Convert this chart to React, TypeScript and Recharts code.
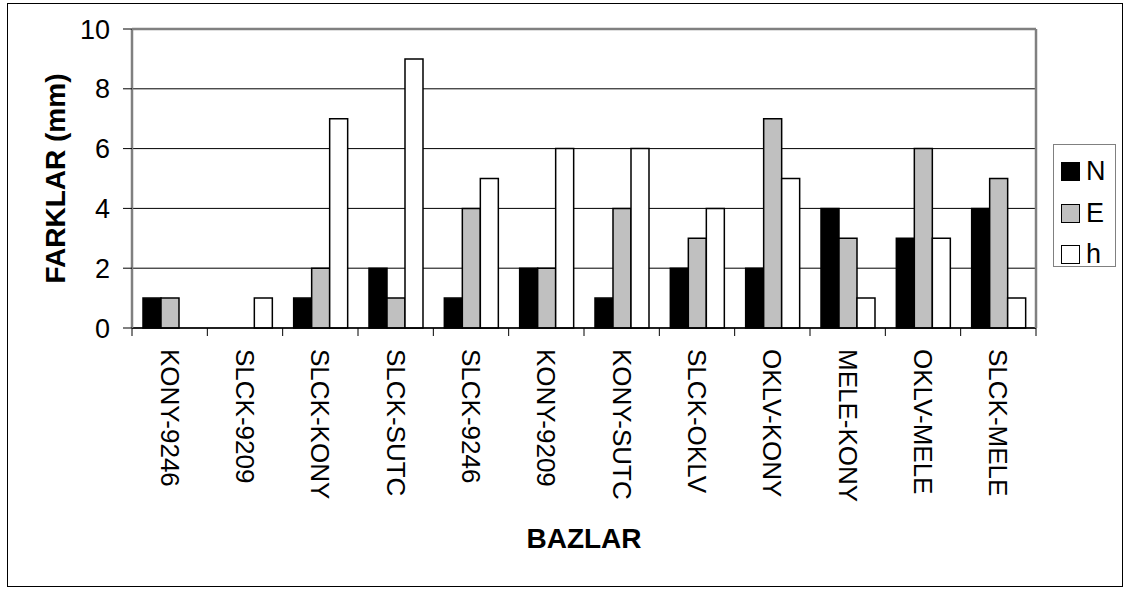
import React from "react";
import {
  BarChart,
  Bar,
  XAxis,
  YAxis,
  CartesianGrid,
  Legend,
  ReferenceLine,
} from "recharts";

const CATEGORIES = [
  "KONY-9246",
  "SLCK-9209",
  "SLCK-KONY",
  "SLCK-SUTC",
  "SLCK-9246",
  "KONY-9209",
  "KONY-SUTC",
  "SLCK-OKLV",
  "OKLV-KONY",
  "MELE-KONY",
  "OKLV-MELE",
  "SLCK-MELE",
];
const N_VALUES = [1, 0, 1, 2, 1, 2, 1, 2, 2, 4, 3, 4];
const E_VALUES = [1, 0, 2, 1, 4, 2, 4, 3, 7, 3, 6, 5];
const H_VALUES = [0, 1, 7, 9, 5, 6, 6, 4, 5, 1, 3, 1];
const Y_TICKS = [0, 2, 4, 6, 8, 10];

const SERIES = [
  { key: "N", fill: "#000000" },
  { key: "E", fill: "#c0c0c0" },
  { key: "h", fill: "#ffffff" },
];

const data = CATEGORIES.map((name, i) => ({
  name,
  N: N_VALUES[i],
  E: E_VALUES[i],
  h: H_VALUES[i],
}));

const FONT = "Arial, 'Liberation Sans', sans-serif";
const W = 1124;
const H = 590;
const PLOT_LEFT = 132;
const PLOT_RIGHT = 1036;
const PLOT_TOP = 29;
const PLOT_BOTTOM = 328;
const BAND = (PLOT_RIGHT - PLOT_LEFT) / CATEGORIES.length;

// rotated category labels + tick marks between categories (Excel style)
const CategoryTick = (props: any) => {
  const { x, payload, index } = props;
  const last = index === CATEGORIES.length - 1;
  return (
    <g>
      <line x1={x - BAND / 2} x2={x - BAND / 2} y1={PLOT_BOTTOM} y2={PLOT_BOTTOM + 8} stroke="#000" strokeWidth={1} />
      {last && (
        <line x1={x + BAND / 2} x2={x + BAND / 2} y1={PLOT_BOTTOM} y2={PLOT_BOTTOM + 8} stroke="#000" strokeWidth={1} />
      )}
      <text
        transform={`translate(${x}, ${PLOT_BOTTOM + 21}) rotate(90)`}
        textAnchor="start"
        dominantBaseline="central"
        fontSize={26}
        fontFamily={FONT}
        fill="#000"
      >
        {payload.value}
      </text>
    </g>
  );
};

const LegendBox = () => (
  <div
    style={{
      width: 63,
      height: 123,
      border: "1px solid #808080",
      boxSizing: "border-box",
      background: "#fff",
      fontFamily: FONT,
      fontSize: 27,
      paddingTop: 6,
    }}
  >
    {SERIES.map((s) => (
      <div key={s.key} style={{ display: "flex", alignItems: "center", height: 41.5, paddingLeft: 7 }}>
        <span
          style={{
            display: "inline-block",
            width: 17,
            height: 17,
            background: s.fill,
            border: "1.5px solid #000",
            marginRight: 6,
          }}
        />
        <span style={{ lineHeight: 1 }}>{s.key}</span>
      </div>
    ))}
  </div>
);

export default function App() {
  return (
    <div style={{ position: "absolute", left: 0, top: 0, width: W, height: H, background: "#fff" }}>
      <div
        style={{
          position: "absolute",
          left: 7,
          top: 3,
          width: 1116,
          height: 584,
          border: "1.5px solid #000",
          boxSizing: "border-box",
        }}
      />
      <BarChart
        width={W}
        height={H}
        data={data}
        margin={{ top: PLOT_TOP, right: W - PLOT_RIGHT - 1, left: 0, bottom: 0 }}
        barCategoryGap="14.6%"
        barGap={0}
        style={{ position: "absolute", left: 0, top: 0 }}
      >
        <CartesianGrid yAxisId="left" horizontal vertical={false} stroke="#000" strokeWidth={1} />
        <XAxis
          dataKey="name"
          height={H - PLOT_BOTTOM}
          interval={0}
          tick={<CategoryTick />}
          tickLine={false}
          axisLine={{ stroke: "#000", strokeWidth: 1.5 }}
          label={{
            value: "BAZLAR",
            position: "center",
            dy: 79,
            style: { fontSize: 28, fontWeight: "bold", fontFamily: FONT, fill: "#000" },
          }}
        />
        <YAxis
          yAxisId="left"
          width={PLOT_LEFT}
          domain={[0, 10]}
          ticks={Y_TICKS}
          interval={0}
          tickSize={9}
          tickMargin={13}
          tickLine={{ stroke: "#000" }}
          axisLine={{ stroke: "#808080", strokeWidth: 2.5 }}
          tick={{ fontSize: 27, fontFamily: FONT, fill: "#000" }}
          label={{
            value: "FARKLAR (mm)",
            angle: -90,
            position: "center",
            dx: -11,
            style: { fontSize: 28, fontWeight: "bold", fontFamily: FONT, fill: "#000", textAnchor: "middle" },
          }}
        />
        <YAxis
          yAxisId="right"
          orientation="right"
          width={1}
          domain={[0, 10]}
          ticks={Y_TICKS}
          tick={false}
          tickLine={false}
          axisLine={{ stroke: "#808080", strokeWidth: 2.5 }}
        />
        <ReferenceLine yAxisId="left" y={10} stroke="#808080" strokeWidth={2.5} />
        {SERIES.map((s) => (
          <Bar
            key={s.key}
            yAxisId="left"
            dataKey={s.key}
            fill={s.fill}
            stroke="#000"
            strokeWidth={1.5}
            isAnimationActive={false}
          />
        ))}
        <Legend
          layout="horizontal"
          align="center"
          verticalAlign="middle"
          content={<LegendBox />}
          wrapperStyle={{ position: "absolute", left: 1053, top: 144, width: 63 }}
        />
      </BarChart>
    </div>
  );
}
